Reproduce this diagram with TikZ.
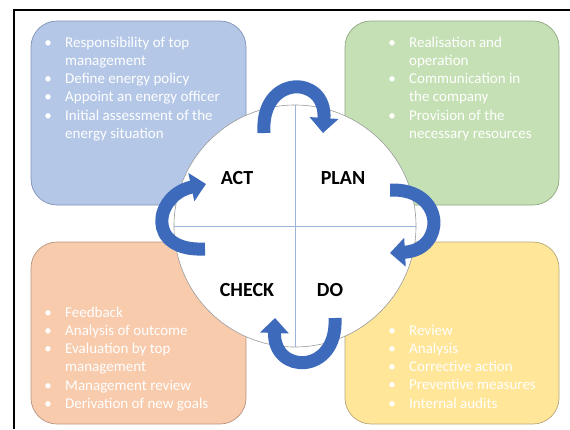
\documentclass[tikz,border=0pt]{standalone}
\usepackage{fontspec}
\setmainfont{Carlito}
\usetikzlibrary{arrows.meta}

\definecolor{actfill}{HTML}{B4C7E7}
\definecolor{actedge}{HTML}{8093B8}
\definecolor{planfill}{HTML}{C5E0B4}
\definecolor{planedge}{HTML}{8FA882}
\definecolor{checkfill}{HTML}{F8CBAD}
\definecolor{checkedge}{HTML}{B89580}
\definecolor{dofill}{HTML}{FFE699}
\definecolor{doedge}{HTML}{B8A878}
\definecolor{cycleblue}{HTML}{3D6ABB}
\definecolor{crossline}{HTML}{9DB3DB}
\definecolor{ringgray}{HTML}{9A9A9A}

\tikzset{
  panel/.style={rounded corners=26pt, line width=0.7pt},
  itemlist/.style={inner sep=0pt, anchor=base west, text=white,
    font=\fontsize{15}{18.3}\selectfont},
  phase/.style={font=\fontsize{20}{24}\selectfont\bfseries, text=black, inner sep=0pt},
  cyclearrow/.style={draw=cycleblue, line width=13pt,
    -{Triangle[width=28pt,length=15pt]}},
}
\newcommand{\bul}{\makebox[0pt]{\textbullet}}

\begin{document}
\begin{tikzpicture}[x=1pt,y=-1pt]
  \useasboundingbox (0,0) rectangle (570,429);
  \fill[white] (0,0) rectangle (570,429);

  % frame
  \draw[line width=1.5pt] (14,429) -- (14,10) -- (570,10);

  % four panels
  \draw[panel, fill=actfill, draw=actedge] (31,21) rectangle (246,205);
  \draw[panel, fill=planfill, draw=planedge] (345,21) rectangle (559,205);
  \draw[panel, fill=checkfill, draw=checkedge] (31,242) rectangle (246,424);
  \draw[panel, fill=dofill, draw=doedge] (345,242) rectangle (559,424);

  % panel texts
  \node[itemlist] (actlist) at (48,47) {\begin{tabular}[t]{@{}p{17pt}@{}l@{}}
    \bul & Responsibility of top\\ & management\\
    \bul & Define energy policy\\
    \bul & Appoint an energy officer\\
    \bul & Initial assessment of the\\ & energy situation
  \end{tabular}};
  \node[itemlist] (planlist) at (392,47) {\begin{tabular}[t]{@{}p{17pt}@{}l@{}}
    \bul & Realisation and\\ & operation\\
    \bul & Communication in\\ & the company\\
    \bul & Provision of the\\ & necessary resources
  \end{tabular}};
  \node[itemlist] (checklist) at (48,317) {\begin{tabular}[t]{@{}p{17pt}@{}l@{}}
    \bul & Feedback\\
    \bul & Analysis of outcome\\
    \bul & Evaluation by top\\ & management\\
    \bul & Management review\\
    \bul & Derivation of new goals
  \end{tabular}};
  \node[itemlist] (dolist) at (392,335) {\begin{tabular}[t]{@{}p{17pt}@{}l@{}}
    \bul & Review\\
    \bul & Analysis\\
    \bul & Corrective action\\
    \bul & Preventive measures\\
    \bul & Internal audits
  \end{tabular}};

  % central disc with cross
  \node[circle, draw=ringgray, fill=white, minimum size=242pt, inner sep=0pt,
        line width=0.6pt] (hub) at (295,226) {};
  \draw[crossline, line width=0.8pt] (hub.north) -- (hub.south);
  \draw[crossline, line width=0.8pt] (hub.west) -- (hub.east);

  % phase labels
  \node[phase] (act) at (237,178) {ACT};
  \node[phase] (plan) at (343,178) {PLAN};
  \node[phase] (check) at (247,290) {CHECK};
  \node[phase] (do) at (330,290) {DO};

  % arrow end points
  \coordinate (actout) at (264,133);
  \coordinate (planin) at (323,133);
  \coordinate (planout) at (390,190);
  \coordinate (doin) at (390,253);
  \coordinate (doout) at (335,318);
  \coordinate (checkin) at (275,318);
  \coordinate (checkout) at (205,249);
  \coordinate (actin) at (206,184);

  % cycle arrows
  \draw[cyclearrow] (actout) .. controls (260,74) and (327,74) .. (planin);
  \draw[cyclearrow] (planout) .. controls (446,188) and (446,250) .. (doin);
  \draw[cyclearrow] (doout) .. controls (338,375) and (273,375) .. (checkin);
  \draw[cyclearrow] (checkout) .. controls (145,252) and (154,195) .. (actin);
\end{tikzpicture}
\end{document}
